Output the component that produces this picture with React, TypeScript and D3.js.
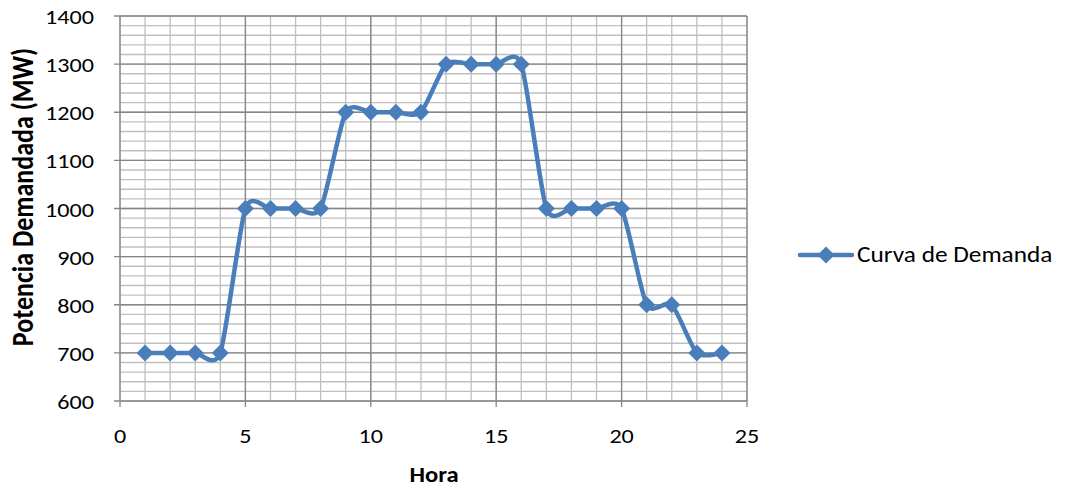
import React from "react";
import * as d3 from "d3";

const hours = [1,2,3,4,5,6,7,8,9,10,11,12,13,14,15,16,17,18,19,20,21,22,23,24];
const demand = [700,700,700,700,1000,1000,1000,1000,1200,1200,1200,1200,1300,1300,1300,1300,1000,1000,1000,1000,800,800,700,700];
const xTicks = [0,5,10,15,20,25];
const yTicks = [600,700,800,900,1000,1100,1200,1300,1400];
const seriesName = "Curva de Demanda";
const xTitle = "Hora";
const yTitle = "Potencia Demandada (MW)";

const W = 1068, H = 488;
const left = 120, right = 747, top = 16, bottom = 401;
const FONT = "Carlito, Calibri, 'Open Sans', 'Noto Sans', sans-serif";
const COLOR = "#4A7EBB";
const SX = 1.15;

export default function App() {
  const x = d3.scaleLinear().domain([0, 25]).range([left, right]);
  const y = d3.scaleLinear().domain([600, 1400]).range([bottom, top]);
  const minorX = d3.range(0, 26, 1);
  const minorY = d3.range(600, 1401, 20);
  const line = d3.line<number>()
    .x((_, i) => x(hours[i]))
    .y((d) => y(d))
    .curve(d3.curveCardinal.tension(0.3));
  const diamond = (cx: number, cy: number, r: number) =>
    `M${cx},${cy - r}L${cx + r},${cy}L${cx},${cy + r}L${cx - r},${cy}Z`;
  return (
    <svg width={W} height={H} style={{ position: "absolute", left: 0, top: 0, background: "#fff" }}>
      <g>
        {minorX.map((v) => (
          <line key={"mx" + v} x1={x(v)} x2={x(v)} y1={top} y2={bottom} stroke="#BFBFBF" strokeWidth={1.3} />
        ))}
        {minorY.map((v) => (
          <line key={"my" + v} x1={left} x2={right} y1={y(v)} y2={y(v)} stroke="#BFBFBF" strokeWidth={1.3} />
        ))}
        {xTicks.map((v) => (
          <line key={"Mx" + v} x1={x(v)} x2={x(v)} y1={top} y2={bottom + 6} stroke="#868686" strokeWidth={1.3} />
        ))}
        {yTicks.map((v) => (
          <line key={"My" + v} x1={left - 6} x2={right} y1={y(v)} y2={y(v)} stroke="#868686" strokeWidth={1.3} />
        ))}
      </g>
      <path d={line(demand) || ""} fill="none" stroke={COLOR} strokeWidth={4.5} strokeLinejoin="round" />
      {demand.map((d, i) => (
        <path key={"m" + i} d={diamond(x(hours[i]), y(d), 8.5)} fill={COLOR} />
      ))}
      {yTicks.map((v) => (
        <text key={"ty" + v} transform={`translate(94, ${y(v) + 8}) scale(${SX},1)`} textAnchor="end" fontFamily={FONT} fontSize={21} fill="#000">{v}</text>
      ))}
      {xTicks.map((v) => (
        <text key={"tx" + v} transform={`translate(${x(v)}, 443) scale(${SX},1)`} textAnchor="middle" fontFamily={FONT} fontSize={21} fill="#000">{v}</text>
      ))}
      <text transform={`translate(434, 482) scale(1.12,1)`} textAnchor="middle" fontFamily={FONT} fontSize={22} fontWeight="bold">{xTitle}</text>
      <text transform={`translate(33, 197) rotate(-90) scale(1,${SX})`} textAnchor="middle" fontFamily={FONT} fontSize={26} fontWeight="bold">{yTitle}</text>
      <line x1={800} x2={852} y1={255} y2={255} stroke={COLOR} strokeWidth={4.5} strokeLinecap="round" />
      <path d={diamond(826, 255, 8.5)} fill={COLOR} />
      <text transform={`translate(857, 262) scale(${SX},1)`} fontFamily={FONT} fontSize={22}>{seriesName}</text>
    </svg>
  );
}
